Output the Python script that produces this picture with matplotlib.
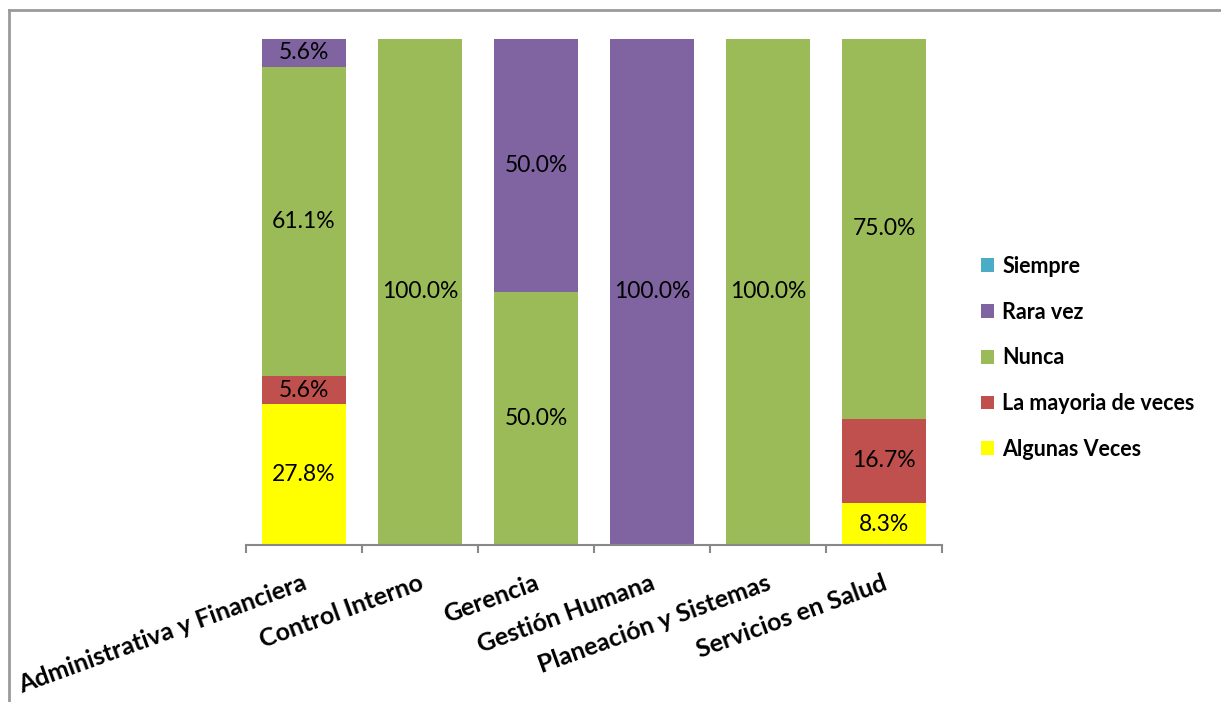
import matplotlib.pyplot as plt
from matplotlib.lines import Line2D
from matplotlib.transforms import ScaledTranslation
import numpy as np

plt.rcParams['font.family'] = ['Lato', 'DejaVu Sans']

# Departments and answer shares (percent), stacked bottom to top
departments = ["Administrativa y Financiera", "Control Interno", "Gerencia",
               "Gestión Humana", "Planeación y Sistemas", "Servicios en Salud"]
algunas_veces = [27.8, 0, 0, 0, 0, 8.3]
mayoria_veces = [5.6, 0, 0, 0, 0, 16.7]
nunca = [61.1, 100.0, 50.0, 0, 100.0, 75.0]
rara_vez = [5.6, 0, 50.0, 100.0, 0, 0]
siempre = [0, 0, 0, 0, 0, 0]

series = [
    ("Algunas Veces", algunas_veces, "#FFFF00"),
    ("La mayoria de veces", mayoria_veces, "#C0504D"),
    ("Nunca", nunca, "#9BBB59"),
    ("Rara vez", rara_vez, "#8064A2"),
    ("Siempre", siempre, "#4BACC6"),
]

fig = plt.figure(figsize=(12.21, 7.02), dpi=100)
ax = fig.add_axes([246 / 1221, 1 - 545 / 702, (942 - 246) / 1221, (545 - 39) / 702])

x = np.arange(len(departments))
bottom = np.zeros(len(departments))
handles = []
for name, vals, color in series:
    vals = np.array(vals, dtype=float)
    bars = ax.bar(x, vals, width=0.72, bottom=bottom, color=color, label=name)
    handles.append(bars)
    for xi, v, b in zip(x, vals, bottom):
        if v > 0:
            ax.text(xi, b + v / 2, f"{v:.1f}%", ha="center", va="center",
                    fontsize=16.5, color="black")
    bottom += vals

ax.set_xlim(-0.5, len(departments) - 0.5)
ax.set_ylim(0, 100)
ax.set_yticks([])
for side in ["left", "right", "top"]:
    ax.spines[side].set_visible(False)
ax.spines["bottom"].set_color("#898989")
ax.spines["bottom"].set_linewidth(1.5)

# Tick marks sit between the categories
ax.set_xticks(np.arange(-0.5, len(departments), 1.0))
ax.set_xticklabels([])
ax.tick_params(axis="x", length=6, color="#898989", width=1.5)
ax.set_xticks(x, minor=True)
ax.set_xticklabels(departments, minor=True, rotation=20, ha="right",
                   rotation_mode="anchor", fontsize=18, fontweight="bold")
ax.tick_params(axis="x", which="minor", length=0, pad=19)
for lbl in ax.get_xticklabels(minor=True):
    lbl.set_transform(lbl.get_transform() + ScaledTranslation(-0.02, 0, fig.dpi_scale_trans))

leg = ax.legend(handles=handles[::-1], labels=[s[0] for s in series][::-1],
                loc="center left", bbox_to_anchor=(1.028, 0.37), frameon=False,
                prop={"size": 15.5, "weight": "bold"}, handlelength=0.6,
                handleheight=0.6, handletextpad=0.4, labelspacing=1.15)

# Outer chart frame
fig.add_artist(Line2D([9 / 1221, 9 / 1221], [0, 1 - 9.5 / 702],
                      transform=fig.transFigure, color="#9a9a9a", lw=2))
fig.add_artist(Line2D([9 / 1221, 1], [1 - 9.5 / 702, 1 - 9.5 / 702],
                      transform=fig.transFigure, color="#9a9a9a", lw=2))

fig.savefig("out.png", dpi=100)
